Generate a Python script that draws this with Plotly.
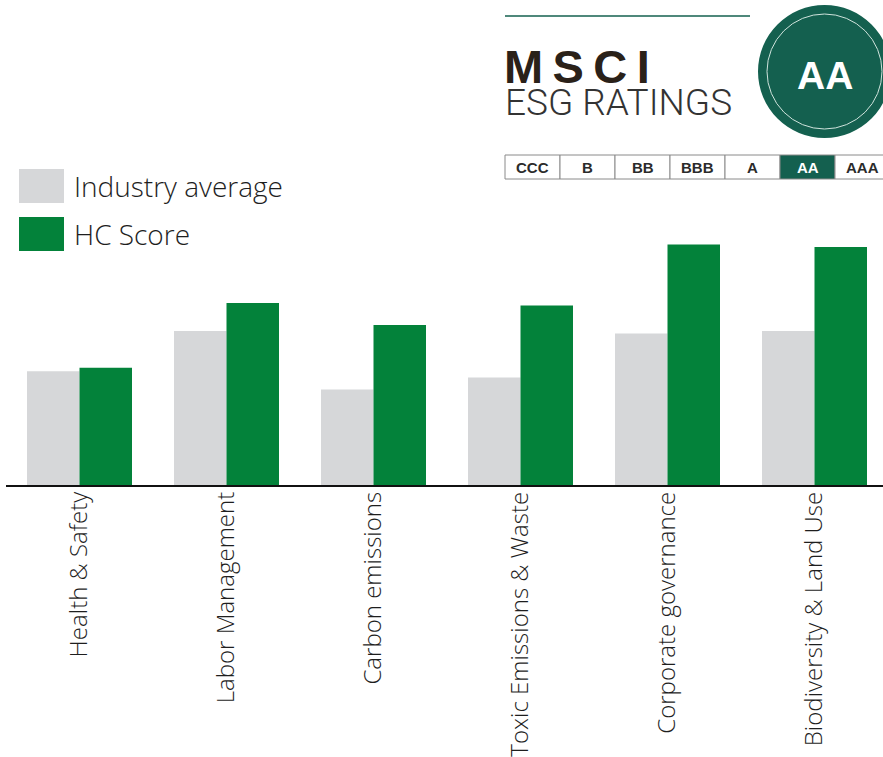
import plotly.graph_objects as go

categories = ["Health & Safety", "Labor Management", "Carbon emissions",
              "Toxic Emissions & Waste", "Corporate governance", "Biodiversity & Land Use"]
industry_average = [4.7, 6.35, 3.95, 4.45, 6.25, 6.35]
hc_score = [4.85, 7.5, 6.6, 7.4, 9.9, 9.8]
series_names = ["Industry average", "HC Score"]
rating_scale = ["CCC", "B", "BB", "BBB", "A", "AA", "AAA"]
current_rating = "AA"

W, H = 883, 757
ML, MR, MT, MB = 6, 0, 0, 271
PW = W - ML - MR
PH = H - MT - MB

GREY = "#d6d7d9"
GREEN = "#03823a"
TEAL = "#14604f"
TEXT = "#1e1e1e"


def px(x):
    return (x - ML) / PW


def py(y):
    return (H - MB - y) / PH


fig = go.Figure()
fig.add_trace(go.Bar(x=categories, y=industry_average, name=series_names[0],
                     marker=dict(color=GREY, line=dict(width=0))))
fig.add_trace(go.Bar(x=categories, y=hc_score, name=series_names[1],
                     marker=dict(color=GREEN, line=dict(width=0))))

shapes = []
annotations = []

# manual legend
legend_rows = [(169, 203, GREY, series_names[0]), (217, 251, GREEN, series_names[1])]
for y0, y1, col, name in legend_rows:
    shapes.append(dict(type="rect", xref="paper", yref="paper",
                       x0=px(19), x1=px(64), y0=py(y1), y1=py(y0),
                       fillcolor=col, line=dict(width=0)))
    annotations.append(dict(text=name, xref="paper", yref="paper",
                            x=px(72), y=py((y0 + y1) / 2), xanchor="left", yanchor="middle",
                            showarrow=False,
                            font=dict(family="Open Sans", size=28, color=TEXT, weight=300)))

# MSCI logo
shapes.append(dict(type="line", xref="paper", yref="paper",
                   x0=px(505), x1=px(750), y0=py(16), y1=py(16),
                   line=dict(color=TEAL, width=1.5)))
annotations.append(dict(text="M\u2009S\u2009C\u2009I", xref="paper", yref="paper",
                        x=px(502), y=py(66), xanchor="left", yanchor="middle",
                        showarrow=False,
                        font=dict(family="Liberation Sans", size=47, color="#2a2119", weight="bold")))
annotations.append(dict(text="ESG RATINGS", xref="paper", yref="paper",
                        x=px(503), y=py(103), xanchor="left", yanchor="middle",
                        showarrow=False,
                        font=dict(family="Roboto", size=37, color="#333333", weight=300)))
# circle
shapes.append(dict(type="circle", xref="paper", yref="paper",
                   x0=px(758), x1=px(891), y0=py(138), y1=py(5),
                   fillcolor=TEAL, line=dict(width=0)))
shapes.append(dict(type="circle", xref="paper", yref="paper",
                   x0=px(767), x1=px(882), y0=py(129), y1=py(14),
                   fillcolor="rgba(0,0,0,0)", line=dict(color="#cfe3dc", width=1)))
annotations.append(dict(text=current_rating, xref="paper", yref="paper",
                        x=px(825), y=py(76), xanchor="center", yanchor="middle",
                        showarrow=False,
                        font=dict(family="Liberation Sans", size=39, color="white", weight="bold")))
# rating scale row
cell_w = 55
for i, r in enumerate(rating_scale):
    x0 = 505 + i * cell_w
    x1 = x0 + cell_w
    active = (r == current_rating)
    shapes.append(dict(type="rect", xref="paper", yref="paper",
                       x0=px(x0), x1=px(x1), y0=py(179), y1=py(155),
                       fillcolor=TEAL if active else "white",
                       line=dict(color="#8a8a8a", width=1)))
    annotations.append(dict(text=r, xref="paper", yref="paper",
                            x=px((x0 + x1) / 2) if r != rating_scale[-1] else px(862),
                            y=py(167), xanchor="center", yanchor="middle",
                            showarrow=False,
                            font=dict(family="Liberation Sans", size=15,
                                      color="white" if active else "#2b2b2b", weight="bold")))

# baseline axis line
shapes.append(dict(type="line", xref="paper", yref="paper",
                   x0=0, x1=1, y0=0, y1=0, line=dict(color="#111111", width=2)))

fig.update_layout(
    width=W, height=H,
    margin=dict(l=ML, r=MR, t=MT, b=MB, pad=0),
    paper_bgcolor="white", plot_bgcolor="white",
    barmode="group", bargap=0.2857, bargroupgap=0,
    showlegend=False,
    shapes=shapes, annotations=annotations,
    xaxis=dict(type="category", range=[-0.5, -0.5 + PW / 147.0],
               showgrid=False, showline=False, zeroline=False, ticks="",
               tickangle=-90,
               tickfont=dict(family="Open Sans", size=24, color=TEXT, weight=300)),
    yaxis=dict(range=[0, PH / 24.4], visible=False, showgrid=False, zeroline=False),
)

fig.write_html("out.html", config={"displayModeBar": False},
               post_script="document.body.style.margin='0';document.body.style.overflow='hidden';")
